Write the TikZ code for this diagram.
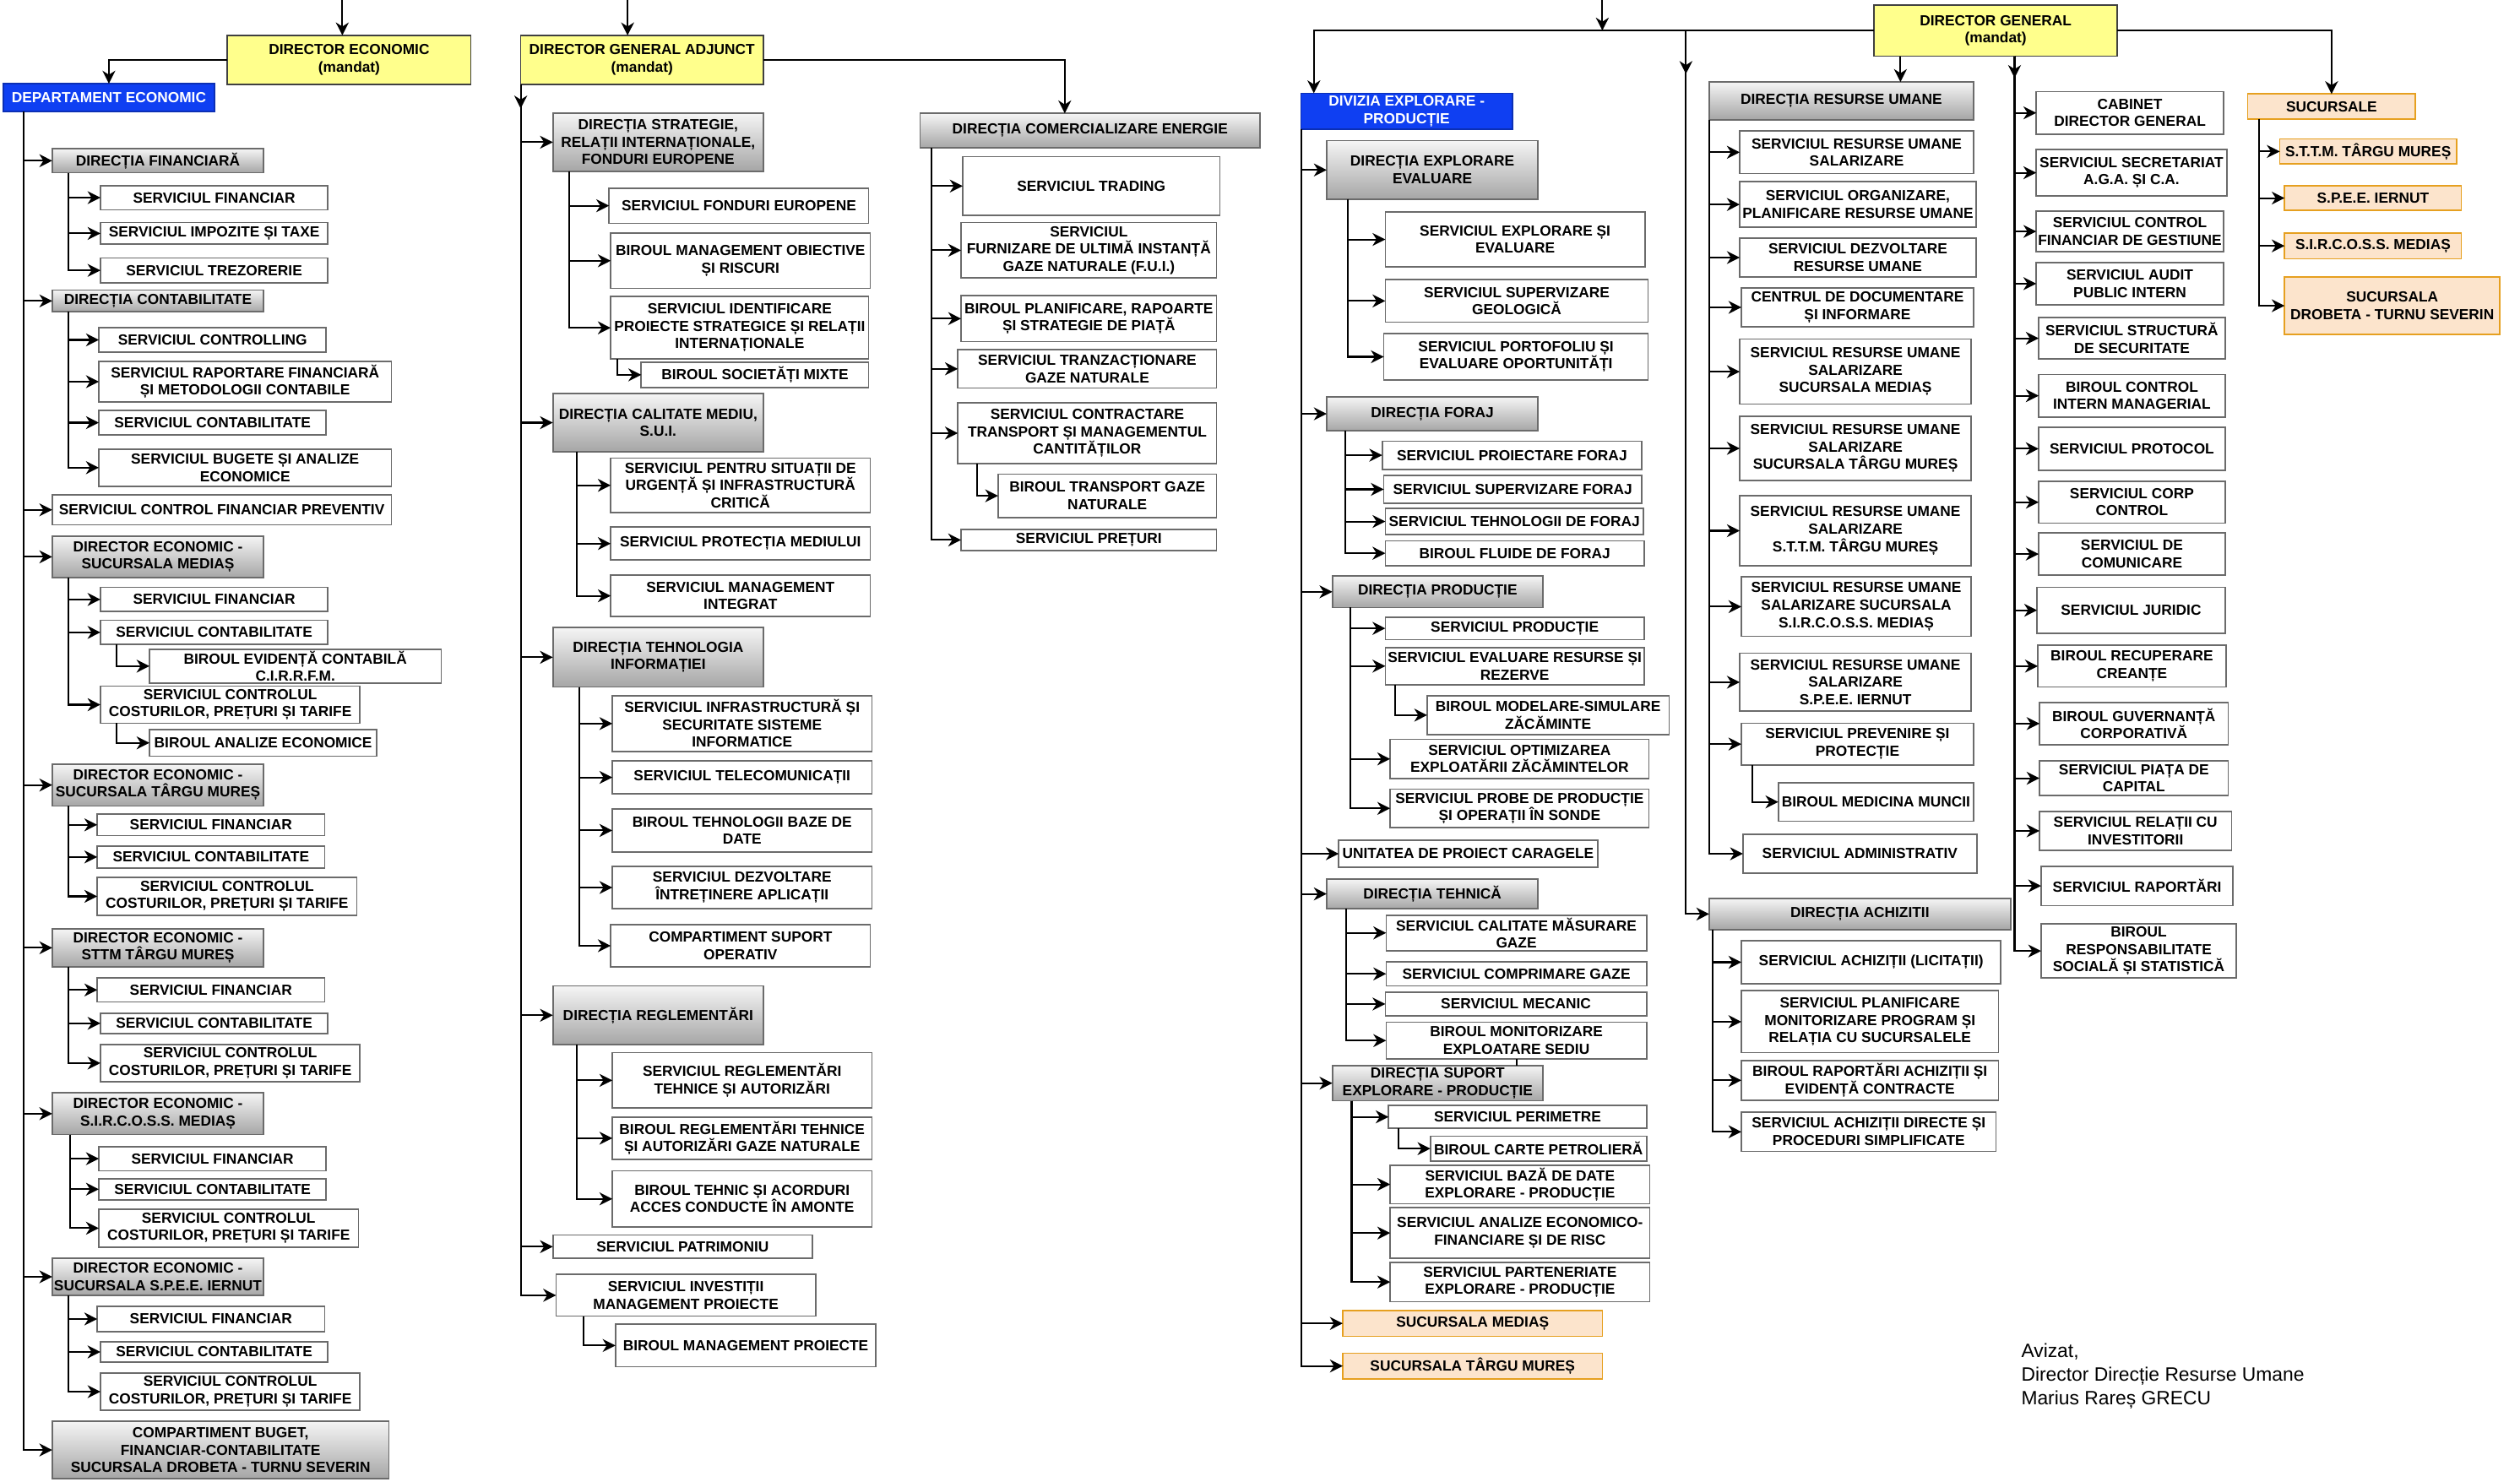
\documentclass[tikz,border=0pt]{standalone}
\usepackage{fontspec}
\setmainfont{Liberation Sans}
\usepackage{xcolor}
\usepackage{tikz}
\usetikzlibrary{arrows.meta}

\definecolor{mandatyellow}{HTML}{FFFF8C}
\definecolor{deptblue}{HTML}{0F3FF2}
\definecolor{sucfill}{HTML}{FCE4CC}
\definecolor{sucline}{HTML}{E6A020}
\definecolor{boxline}{HTML}{6B6B6B}

\newcommand{\orgfont}{\bfseries\fontsize{9.1}{10.8}\selectfont}
\newcommand{\orgnode}[7]{\node[#2, minimum width={#5-#3}, minimum height={#6-#4}] (#1) at ({(#3+#5)/2},{(#4+#6)/2}) {#7};}

\tikzset{
	orgbox/.style={draw=boxline, line width=0.9pt, fill=white, align=center, font=\orgfont, inner sep=0pt, outer sep=0pt},
	dirbox/.style={orgbox, top color=black!4, bottom color=black!35},
	mandat/.style={orgbox, fill=mandatyellow, draw=black!75},
	dept/.style={orgbox, fill=deptblue, draw=deptblue!75!black, text=white},
	branch/.style={orgbox, fill=sucfill, draw=sucline},
	link/.style={line width=1.1pt, -{Stealth[length=8pt,width=8pt,inset=2.5pt]}},
	wire/.style={line width=1.1pt}
}

\begin{document}
\begin{tikzpicture}[x=1pt, y=-1pt]
	\useasboundingbox (0,0) rectangle (1568,922);

	\orgnode{de}{mandat}{141.5}{22}{293}{52.5}{DIRECTOR ECONOMIC\\(mandat)}
	\orgnode{dep}{dept}{2}{52}{133.5}{69.5}{DEPARTAMENT ECONOMIC}
	\orgnode{dfin}{dirbox}{32.5}{92.5}{164}{107.5}{DIRECȚIA FINANCIARĂ}
	\orgnode{fin1}{orgbox}{62.5}{115.5}{204}{130.5}{SERVICIUL FINANCIAR}
	\orgnode{fin2}{orgbox}{62.5}{138.5}{204}{152}{SERVICIUL IMPOZITE ȘI TAXE}
	\orgnode{fin3}{orgbox}{62.5}{160.5}{204}{176}{SERVICIUL TREZORERIE}
	\orgnode{dcont}{dirbox}{32.5}{180.5}{164}{194}{DIRECȚIA CONTABILITATE}
	\orgnode{cont1}{orgbox}{61.5}{204}{203}{219}{SERVICIUL CONTROLLING}
	\orgnode{cont2}{orgbox}{61.5}{225}{243.5}{250}{SERVICIUL RAPORTARE FINANCIARĂ\\ȘI METODOLOGII CONTABILE}
	\orgnode{cont3}{orgbox}{61.5}{255.5}{203}{270.5}{SERVICIUL CONTABILITATE}
	\orgnode{cont4}{orgbox}{61.5}{279.5}{243.5}{302.5}{SERVICIUL BUGETE ȘI ANALIZE\\ECONOMICE}
	\orgnode{cfp}{orgbox}{32.5}{308}{243.5}{326.5}{SERVICIUL CONTROL FINANCIAR PREVENTIV}
	\orgnode{dms}{dirbox}{32.5}{333.5}{164}{359.5}{DIRECTOR ECONOMIC -\\SUCURSALA MEDIAȘ}
	\orgnode{ms1}{orgbox}{62.5}{365.5}{204}{380.5}{SERVICIUL FINANCIAR}
	\orgnode{ms2}{orgbox}{62.5}{386}{204}{401}{SERVICIUL CONTABILITATE}
	\orgnode{ms3}{orgbox}{93}{404}{274.5}{425}{BIROUL EVIDENȚĂ CONTABILĂ\\C.I.R.R.F.M.}
	\orgnode{ms4}{orgbox}{62.5}{427}{224}{450}{SERVICIUL CONTROLUL\\COSTURILOR, PREȚURI ȘI TARIFE}
	\orgnode{ms5}{orgbox}{93}{454}{234.5}{470.5}{BIROUL ANALIZE ECONOMICE}
	\orgnode{dtm}{dirbox}{32.5}{475.5}{164}{501.5}{DIRECTOR ECONOMIC -\\SUCURSALA TÂRGU MUREȘ}
	\orgnode{tm1}{orgbox}{60.5}{506.5}{202}{520}{SERVICIUL FINANCIAR}
	\orgnode{tm2}{orgbox}{60.5}{526.5}{202}{540}{SERVICIUL CONTABILITATE}
	\orgnode{tm3}{orgbox}{60.5}{546}{222}{569.5}{SERVICIUL CONTROLUL\\COSTURILOR, PREȚURI ȘI TARIFE}
	\orgnode{dst}{dirbox}{32.5}{578}{164}{601.5}{DIRECTOR ECONOMIC -\\STTM TÂRGU MUREȘ}
	\orgnode{st1}{orgbox}{60.5}{608.5}{202}{623.5}{SERVICIUL FINANCIAR}
	\orgnode{st2}{orgbox}{62.5}{630.5}{204}{643}{SERVICIUL CONTABILITATE}
	\orgnode{st3}{orgbox}{62.5}{650}{224}{673}{SERVICIUL CONTROLUL\\COSTURILOR, PREȚURI ȘI TARIFE}
	\orgnode{dsir}{dirbox}{32.5}{680}{164}{706}{DIRECTOR ECONOMIC -\\S.I.R.C.O.S.S. MEDIAȘ}
	\orgnode{sir1}{orgbox}{61.5}{713.5}{203}{728.5}{SERVICIUL FINANCIAR}
	\orgnode{sir2}{orgbox}{61.5}{733.5}{203}{746.5}{SERVICIUL CONTABILITATE}
	\orgnode{sir3}{orgbox}{61.5}{752.5}{223}{776}{SERVICIUL CONTROLUL\\COSTURILOR, PREȚURI ȘI TARIFE}
	\orgnode{dier}{dirbox}{32.5}{783}{164}{806}{DIRECTOR ECONOMIC -\\SUCURSALA S.P.E.E. IERNUT}
	\orgnode{ier1}{orgbox}{60.5}{813}{202}{828.5}{SERVICIUL FINANCIAR}
	\orgnode{ier2}{orgbox}{62.5}{835}{204}{847.5}{SERVICIUL CONTABILITATE}
	\orgnode{ier3}{orgbox}{62.5}{854.5}{224}{877.5}{SERVICIUL CONTROLUL\\COSTURILOR, PREȚURI ȘI TARIFE}
	\orgnode{cbf}{dirbox}{32.5}{884.5}{242}{920}{COMPARTIMENT BUGET,\\FINANCIAR-CONTABILITATE\\SUCURSALA DROBETA - TURNU SEVERIN}

	\orgnode{dga}{mandat}{324}{22}{475}{52.5}{DIRECTOR GENERAL ADJUNCT\\(mandat)}
	\orgnode{dstrat}{dirbox}{344}{70.5}{475}{106.5}{DIRECȚIA STRATEGIE,\\RELAȚII INTERNAȚIONALE,\\FONDURI EUROPENE}
	\orgnode{str1}{orgbox}{379}{117}{540.5}{139}{SERVICIUL FONDURI EUROPENE}
	\orgnode{str2}{orgbox}{380}{145}{541.5}{179.5}{BIROUL MANAGEMENT OBIECTIVE\\ȘI RISCURI}
	\orgnode{str3}{orgbox}{380}{184.5}{540.5}{223.5}{SERVICIUL IDENTIFICARE\\PROIECTE STRATEGICE ȘI RELAȚII\\INTERNAȚIONALE}
	\orgnode{str4}{orgbox}{399}{225.5}{540.5}{241}{BIROUL SOCIETĂȚI MIXTE}
	\orgnode{dcal}{dirbox}{344}{245}{475}{281}{DIRECȚIA CALITATE MEDIU,\\S.U.I.}
	\orgnode{cal1}{orgbox}{380}{285}{541.5}{319}{SERVICIUL PENTRU SITUAȚII DE\\URGENȚĂ ȘI INFRASTRUCTURĂ\\CRITICĂ}
	\orgnode{cal2}{orgbox}{380}{328}{541.5}{348.5}{SERVICIUL PROTECȚIA MEDIULUI}
	\orgnode{cal3}{orgbox}{380}{358}{541.5}{383.5}{SERVICIUL MANAGEMENT\\INTEGRAT}
	\orgnode{dti}{dirbox}{344}{390.5}{475}{427.5}{DIRECȚIA TEHNOLOGIA\\INFORMAȚIEI}
	\orgnode{ti1}{orgbox}{381}{433}{542.5}{467.5}{SERVICIUL INFRASTRUCTURĂ ȘI\\SECURITATE SISTEME\\INFORMATICE}
	\orgnode{ti2}{orgbox}{381}{473.5}{542.5}{494}{SERVICIUL TELECOMUNICAȚII}
	\orgnode{ti3}{orgbox}{381}{503.5}{542.5}{530}{BIROUL TEHNOLOGII BAZE DE\\DATE}
	\orgnode{ti4}{orgbox}{381}{539}{542.5}{565.5}{SERVICIUL DEZVOLTARE\\ÎNTREȚINERE APLICAȚII}
	\orgnode{ti5}{orgbox}{380}{575.5}{541.5}{601.5}{COMPARTIMENT SUPORT\\OPERATIV}
	\orgnode{dreg}{dirbox}{344}{613.5}{475}{650}{DIRECȚIA REGLEMENTĂRI}
	\orgnode{reg1}{orgbox}{381}{655}{542.5}{689.5}{SERVICIUL REGLEMENTĂRI\\TEHNICE ȘI AUTORIZĂRI}
	\orgnode{reg2}{orgbox}{381}{695}{542.5}{721.5}{BIROUL REGLEMENTĂRI TEHNICE\\ȘI AUTORIZĂRI GAZE NATURALE}
	\orgnode{reg3}{orgbox}{381}{728.5}{542.5}{763.5}{BIROUL TEHNIC ȘI ACORDURI\\ACCES CONDUCTE ÎN AMONTE}
	\orgnode{pat}{orgbox}{344}{768.5}{505.5}{783}{SERVICIUL PATRIMONIU}
	\orgnode{inv}{orgbox}{346}{793}{507.5}{819}{SERVICIUL INVESTIȚII\\MANAGEMENT PROIECTE}
	\orgnode{inv1}{orgbox}{383}{824}{545}{850.5}{BIROUL MANAGEMENT PROIECTE}

	\orgnode{dcom}{dirbox}{572.5}{70.5}{784}{92}{DIRECȚIA COMERCIALIZARE ENERGIE}
	\orgnode{com1}{orgbox}{599}{97.5}{759}{134}{SERVICIUL TRADING}
	\orgnode{com2}{orgbox}{598}{138.5}{757}{173}{SERVICIUL\\FURNIZARE DE ULTIMĂ INSTANȚĂ\\GAZE NATURALE (F.U.I.)}
	\orgnode{com3}{orgbox}{598}{184}{757}{212.5}{BIROUL PLANIFICARE, RAPOARTE\\ȘI STRATEGIE DE PIAȚĂ}
	\orgnode{com4}{orgbox}{596}{217.5}{757}{241.5}{SERVICIUL TRANZACȚIONARE\\GAZE NATURALE}
	\orgnode{com5}{orgbox}{596}{250.5}{757}{288.5}{SERVICIUL CONTRACTARE\\TRANSPORT ȘI MANAGEMENTUL\\CANTITĂȚILOR}
	\orgnode{com6}{orgbox}{621}{295}{757}{322}{BIROUL TRANSPORT GAZE\\NATURALE}
	\orgnode{com7}{orgbox}{598}{329.5}{757}{342.5}{SERVICIUL PREȚURI}

	\orgnode{dg}{mandat}{1166}{3}{1317.5}{35}{DIRECTOR GENERAL\\(mandat)}
	\orgnode{div}{dept}{809.5}{58}{941}{80.5}{DIVIZIA EXPLORARE -\\PRODUCȚIE}
	\orgnode{dexp}{dirbox}{825.5}{87.5}{957}{124}{DIRECȚIA EXPLORARE\\EVALUARE}
	\orgnode{exp1}{orgbox}{862}{132}{1023.5}{166}{SERVICIUL EXPLORARE ȘI\\EVALUARE}
	\orgnode{exp2}{orgbox}{862}{174}{1025.5}{200.5}{SERVICIUL SUPERVIZARE\\GEOLOGICĂ}
	\orgnode{exp3}{orgbox}{861}{207.5}{1025.5}{236.5}{SERVICIUL PORTOFOLIU ȘI\\EVALUARE OPORTUNITĂȚI}
	\orgnode{dfor}{dirbox}{825.5}{247}{957}{268}{DIRECȚIA FORAJ}
	\orgnode{for1}{orgbox}{860}{274.5}{1021.5}{292}{SERVICIUL PROIECTARE FORAJ}
	\orgnode{for2}{orgbox}{861}{296}{1021.5}{313}{SERVICIUL SUPERVIZARE FORAJ}
	\orgnode{for3}{orgbox}{862}{316.5}{1022.5}{332.5}{SERVICIUL TEHNOLOGII DE FORAJ}
	\orgnode{for4}{orgbox}{862}{336.5}{1023}{352}{BIROUL FLUIDE DE FORAJ}
	\orgnode{dpro}{dirbox}{829}{358.5}{960}{378}{DIRECȚIA PRODUCȚIE}
	\orgnode{pro1}{orgbox}{862}{384}{1023}{398}{SERVICIUL PRODUCȚIE}
	\orgnode{pro2}{orgbox}{862}{403}{1023}{426}{SERVICIUL EVALUARE RESURSE ȘI\\REZERVE}
	\orgnode{pro3}{orgbox}{888}{433}{1038.5}{457}{BIROUL MODELARE-SIMULARE\\ZĂCĂMINTE}
	\orgnode{pro4}{orgbox}{865}{460}{1026}{484.5}{SERVICIUL OPTIMIZAREA\\EXPLOATĂRII ZĂCĂMINTELOR}
	\orgnode{pro5}{orgbox}{865}{491}{1026}{515}{SERVICIUL PROBE DE PRODUCȚIE\\ȘI OPERAȚII ÎN SONDE}
	\orgnode{car}{orgbox}{833}{523}{994}{539.5}{UNITATEA DE PROIECT CARAGELE}
	\orgnode{dteh}{dirbox}{825.5}{547}{957}{565.5}{DIRECȚIA TEHNICĂ}
	\orgnode{teh1}{orgbox}{862.5}{569.5}{1024.5}{591.5}{SERVICIUL CALITATE MĂSURARE\\GAZE}
	\orgnode{teh2}{orgbox}{862.5}{598.5}{1024.5}{613.5}{SERVICIUL COMPRIMARE GAZE}
	\orgnode{teh3}{orgbox}{862}{617.5}{1024.5}{632}{SERVICIUL MECANIC}
	\orgnode{teh4}{orgbox}{862.5}{636}{1024.5}{659}{BIROUL MONITORIZARE\\EXPLOATARE SEDIU}
	\orgnode{dsup}{dirbox}{829}{663}{960}{685}{DIRECȚIA SUPORT\\EXPLORARE - PRODUCȚIE}
	\orgnode{sup1}{orgbox}{864}{688}{1024.5}{702}{SERVICIUL PERIMETRE}
	\orgnode{sup2}{orgbox}{890}{707}{1024.5}{722.5}{BIROUL CARTE PETROLIERĂ}
	\orgnode{sup3}{orgbox}{865}{725}{1026.5}{749}{SERVICIUL BAZĂ DE DATE\\EXPLORARE - PRODUCȚIE}
	\orgnode{sup4}{orgbox}{865}{751.5}{1026.5}{783}{SERVICIUL ANALIZE ECONOMICO-\\FINANCIARE ȘI DE RISC}
	\orgnode{sup5}{orgbox}{865}{785.5}{1026.5}{810}{SERVICIUL PARTENERIATE\\EXPLORARE - PRODUCȚIE}
	\orgnode{sucms}{branch}{835.5}{815.5}{997}{831.5}{SUCURSALA MEDIAȘ}
	\orgnode{suctm}{branch}{835.5}{842}{997}{858}{SUCURSALA TÂRGU MUREȘ}

	\orgnode{ru}{dirbox}{1063.5}{51}{1228}{74.5}{DIRECȚIA RESURSE UMANE}
	\orgnode{ru1}{orgbox}{1082.5}{81.5}{1228}{108}{SERVICIUL RESURSE UMANE\\SALARIZARE}
	\orgnode{ru2}{orgbox}{1082.5}{113}{1229.5}{141.5}{SERVICIUL ORGANIZARE,\\PLANIFICARE RESURSE UMANE}
	\orgnode{ru3}{orgbox}{1082.5}{148}{1229.5}{172.5}{SERVICIUL DEZVOLTARE\\RESURSE UMANE}
	\orgnode{ru4}{orgbox}{1083.5}{179}{1228}{203.5}{CENTRUL DE DOCUMENTARE\\ȘI INFORMARE}
	\orgnode{ru5}{orgbox}{1082.5}{211}{1226.5}{251.5}{SERVICIUL RESURSE UMANE\\SALARIZARE\\SUCURSALA MEDIAȘ}
	\orgnode{ru6}{orgbox}{1082.5}{259}{1226.5}{299}{SERVICIUL RESURSE UMANE\\SALARIZARE\\SUCURSALA TÂRGU MUREȘ}
	\orgnode{ru7}{orgbox}{1082.5}{308.5}{1226.5}{352}{SERVICIUL RESURSE UMANE\\SALARIZARE\\S.T.T.M. TÂRGU MUREȘ}
	\orgnode{ru8}{orgbox}{1083.5}{359}{1226.5}{396}{SERVICIUL RESURSE UMANE\\SALARIZARE SUCURSALA\\S.I.R.C.O.S.S. MEDIAȘ}
	\orgnode{ru9}{orgbox}{1082.5}{406.5}{1226.5}{442.5}{SERVICIUL RESURSE UMANE\\SALARIZARE\\S.P.E.E. IERNUT}
	\orgnode{ru10}{orgbox}{1083.5}{450}{1228}{476}{SERVICIUL PREVENIRE ȘI\\PROTECȚIE}
	\orgnode{ru11}{orgbox}{1106.5}{487}{1228}{511}{BIROUL MEDICINA MUNCII}
	\orgnode{ru12}{orgbox}{1084.5}{519}{1230}{543.5}{SERVICIUL ADMINISTRATIV}
	\orgnode{ach}{dirbox}{1063.5}{559}{1251}{578.5}{DIRECȚIA ACHIZITII}
	\orgnode{ach1}{orgbox}{1083.5}{585.5}{1245}{612}{SERVICIUL ACHIZIȚII (LICITAȚII)}
	\orgnode{ach2}{orgbox}{1083.5}{616.5}{1243.5}{655}{SERVICIUL PLANIFICARE\\MONITORIZARE PROGRAM ȘI\\RELAȚIA CU SUCURSALELE}
	\orgnode{ach3}{orgbox}{1083.5}{660}{1243.5}{684.5}{BIROUL RAPORTĂRI ACHIZIȚII ȘI\\EVIDENȚĂ CONTRACTE}
	\orgnode{ach4}{orgbox}{1083.5}{692}{1242}{716.5}{SERVICIUL ACHIZIȚII DIRECTE ȘI\\PROCEDURI SIMPLIFICATE}

	\orgnode{cab1}{orgbox}{1267}{57}{1383.5}{83.5}{CABINET\\DIRECTOR GENERAL}
	\orgnode{cab2}{orgbox}{1267}{93}{1385.5}{122}{SERVICIUL SECRETARIAT\\A.G.A. ȘI C.A.}
	\orgnode{cab3}{orgbox}{1267}{131.5}{1383.5}{156.5}{SERVICIUL CONTROL\\FINANCIAR DE GESTIUNE}
	\orgnode{cab4}{orgbox}{1267}{163.5}{1383.5}{189.5}{SERVICIUL AUDIT\\PUBLIC INTERN}
	\orgnode{cab5}{orgbox}{1268.5}{197.5}{1384.5}{223.5}{SERVICIUL STRUCTURĂ\\DE SECURITATE}
	\orgnode{cab6}{orgbox}{1268.5}{233}{1384.5}{259.5}{BIROUL CONTROL\\INTERN MANAGERIAL}
	\orgnode{cab7}{orgbox}{1268.5}{266}{1384.5}{292.5}{SERVICIUL PROTOCOL}
	\orgnode{cab8}{orgbox}{1268.5}{299.5}{1384.5}{325.5}{SERVICIUL CORP\\CONTROL}
	\orgnode{cab9}{orgbox}{1268.5}{331.5}{1384.5}{358}{SERVICIUL DE\\COMUNICARE}
	\orgnode{cab10}{orgbox}{1267.5}{365.5}{1384.5}{394}{SERVICIUL JURIDIC}
	\orgnode{cab11}{orgbox}{1268}{401.5}{1385}{427.5}{BIROUL RECUPERARE\\CREANȚE}
	\orgnode{cab12}{orgbox}{1269}{437}{1386.5}{463.5}{BIROUL GUVERNANȚĂ\\CORPORATIVĂ}
	\orgnode{cab13}{orgbox}{1269}{473.5}{1386.5}{495}{SERVICIUL PIAȚA DE\\CAPITAL}
	\orgnode{cab14}{orgbox}{1269}{505}{1388.5}{529}{SERVICIUL RELAȚII CU\\INVESTITORII}
	\orgnode{cab15}{orgbox}{1270}{539}{1389.5}{563.5}{SERVICIUL RAPORTĂRI}
	\orgnode{cab16}{orgbox}{1270}{575}{1391.5}{608.5}{BIROUL\\RESPONSABILITATE\\SOCIALĂ ȘI STATISTICĂ}

	\orgnode{suc}{branch}{1398.5}{58.5}{1503}{74}{SUCURSALE}
	\orgnode{suc1}{branch}{1418.5}{86.5}{1528.5}{102}{S.T.T.M. TÂRGU MUREȘ}
	\orgnode{suc2}{branch}{1421.5}{115.5}{1531.5}{131}{S.P.E.E. IERNUT}
	\orgnode{suc3}{branch}{1421.5}{145}{1531.5}{161}{S.I.R.C.O.S.S. MEDIAȘ}
	\orgnode{suc4}{branch}{1421.5}{172.5}{1555.5}{208}{SUCURSALA\\DROBETA - TURNU SEVERIN}

	\node[anchor=north west, align=left, inner sep=0pt, font=\fontsize{12}{14.5}\selectfont] (aviz) at (1257.5,836) {Avizat,\\Director Direcție Resurse Umane\\Marius Rareș GRECU};

	\coordinate (inde) at (213,0);
	\coordinate (inga) at (390.5,0);
	\coordinate (indg) at (997,0);
	\coordinate (jach) at (1049,19);
	\coordinate (tdep) at ([xshift=12.5pt]dep.south west);
	\coordinate (tfin) at ([xshift=10pt]dfin.south west);
	\coordinate (tcont) at ([xshift=10pt]dcont.south west);
	\coordinate (tms) at ([xshift=10pt]dms.south west);
	\coordinate (tms2) at ([xshift=10pt]ms2.south west);
	\coordinate (tms4) at ([xshift=10pt]ms4.south west);
	\coordinate (ttm) at ([xshift=10pt]dtm.south west);
	\coordinate (tst) at ([xshift=10pt]dst.south west);
	\coordinate (tsir) at ([xshift=11pt]dsir.south west);
	\coordinate (tier) at ([xshift=10pt]dier.south west);
	\coordinate (tstrat) at ([xshift=10pt]dstrat.south west);
	\coordinate (tstr3) at ([xshift=4pt]str3.south west);
	\coordinate (tcal) at ([xshift=15pt]dcal.south west);
	\coordinate (tti) at ([xshift=16.5pt]dti.south west);
	\coordinate (treg) at ([xshift=15pt]dreg.south west);
	\coordinate (tinv) at ([xshift=17pt]inv.south west);
	\coordinate (tcom) at ([xshift=7pt]dcom.south west);
	\coordinate (tcom5) at ([xshift=12pt]com5.south west);
	\coordinate (texp) at ([xshift=13pt]dexp.south west);
	\coordinate (tfor) at ([xshift=11.5pt]dfor.south west);
	\coordinate (tpro) at ([xshift=11pt]dpro.south west);
	\coordinate (tpro2) at ([xshift=6pt]pro2.south west);
	\coordinate (tteh) at ([xshift=12pt]dteh.south west);
	\coordinate (tsup) at ([xshift=12pt]dsup.south west);
	\coordinate (tsup1) at ([xshift=6pt]sup1.south west);
	\coordinate (tru10) at ([xshift=7pt]ru10.south west);
	\coordinate (tach) at ([xshift=2pt]ach.south west);
	\coordinate (tsuc) at ([xshift=7pt]suc.south west);
	\coordinate (dgru) at ([xshift=16.5pt]dg.south west);
	\coordinate (dgcab) at ([xshift=87.5pt]dg.south west);

	\draw[link] (inde) -- (inde |- de.north);
	\draw[link] (de.west) -| (dep.north);
	\draw[link] (tdep) |- (dfin.west);
	\draw[link] (tdep) |- (dcont.west);
	\draw[link] (tdep) |- (cfp.west);
	\draw[link] (tdep) |- (dms.west);
	\draw[link] (tdep) |- (dtm.west);
	\draw[link] (tdep) |- (dst.west);
	\draw[link] (tdep) |- (dsir.west);
	\draw[link] (tdep) |- (dier.west);
	\draw[link] (tdep) |- (cbf.west);
	\draw[link] (tfin) |- (fin1.west);
	\draw[link] (tfin) |- (fin2.west);
	\draw[link] (tfin) |- (fin3.west);
	\draw[link] (tcont) |- (cont1.west);
	\draw[link] (tcont) |- (cont2.west);
	\draw[link] (tcont) |- (cont3.west);
	\draw[link] (tcont) |- (cont4.west);
	\draw[link] (tms) |- (ms1.west);
	\draw[link] (tms) |- (ms2.west);
	\draw[link] (tms) |- (ms4.west);
	\draw[link] (tms2) |- (ms3.west);
	\draw[link] (tms4) |- (ms5.west);
	\draw[link] (ttm) |- (tm1.west);
	\draw[link] (ttm) |- (tm2.west);
	\draw[link] (ttm) |- (tm3.west);
	\draw[link] (tst) |- (st1.west);
	\draw[link] (tst) |- (st2.west);
	\draw[link] (tst) |- (st3.west);
	\draw[link] (tsir) |- (sir1.west);
	\draw[link] (tsir) |- (sir2.west);
	\draw[link] (tsir) |- (sir3.west);
	\draw[link] (tier) |- (ier1.west);
	\draw[link] (tier) |- (ier2.west);
	\draw[link] (tier) |- (ier3.west);

	\draw[link] (inga) -- (inga |- dga.north);
	\draw[link] (dga.east) -| ([xshift=90pt]dcom.north west);
	\draw[link] (dga.south west) -- ++(0,15);
	\draw[link] (dga.south west) |- (dstrat.west);
	\draw[link] (dga.south west) |- (dcal.west);
	\draw[link] (dga.south west) |- (dti.west);
	\draw[link] (dga.south west) |- (dreg.west);
	\draw[link] (dga.south west) |- (pat.west);
	\draw[link] (dga.south west) |- (inv.west);
	\draw[link] (tstrat) |- (str1.west);
	\draw[link] (tstrat) |- (str2.west);
	\draw[link] (tstrat) |- (str3.west);
	\draw[link] (tstr3) |- (str4.west);
	\draw[link] (tcal) |- (cal1.west);
	\draw[link] (tcal) |- (cal2.west);
	\draw[link] (tcal) |- (cal3.west);
	\draw[link] (tti) |- (ti1.west);
	\draw[link] (tti) |- (ti2.west);
	\draw[link] (tti) |- (ti3.west);
	\draw[link] (tti) |- (ti4.west);
	\draw[link] (tti) |- (ti5.west);
	\draw[link] (treg) |- (reg1.west);
	\draw[link] (treg) |- (reg2.west);
	\draw[link] (treg) |- (reg3.west);
	\draw[link] (tinv) |- (inv1.west);
	\draw[link] (tcom) |- (com1.west);
	\draw[link] (tcom) |- (com2.west);
	\draw[link] (tcom) |- (com3.west);
	\draw[link] (tcom) |- (com4.west);
	\draw[link] (tcom) |- (com5.west);
	\draw[link] (tcom) |- (com7.west);
	\draw[link] (tcom5) |- (com6.west);

	\draw[link] (indg) -- (indg |- dg.west);
	\draw[link] (dg.west) -| ([xshift=8pt]div.north west);
	\draw[link] (jach) -- ++(0,27);
	\draw[link] (jach) |- (ach.west);
	\draw[link] (div.south west) |- (dexp.west);
	\draw[link] (div.south west) |- (dfor.west);
	\draw[link] (div.south west) |- (dpro.west);
	\draw[link] (div.south west) |- (car.west);
	\draw[link] (div.south west) |- (dteh.west);
	\draw[link] (div.south west) |- (dsup.west);
	\draw[link] (div.south west) |- (sucms.west);
	\draw[link] (div.south west) |- (suctm.west);
	\draw[link] (texp) |- (exp1.west);
	\draw[link] (texp) |- (exp2.west);
	\draw[link] (texp) |- (exp3.west);
	\draw[link] (tfor) |- (for1.west);
	\draw[link] (tfor) |- (for2.west);
	\draw[link] (tfor) |- (for3.west);
	\draw[link] (tfor) |- (for4.west);
	\draw[link] (tpro) |- (pro1.west);
	\draw[link] (tpro) |- (pro2.west);
	\draw[link] (tpro) |- (pro4.west);
	\draw[link] (tpro) |- (pro5.west);
	\draw[link] (tpro2) |- (pro3.west);
	\draw[link] (tteh) |- (teh1.west);
	\draw[link] (tteh) |- (teh2.west);
	\draw[link] (tteh) |- (teh3.west);
	\draw[link] (tteh) |- (teh4.west);
	\draw[wire] (teh4.south) -- (teh4.south |- dsup.north);
	\draw[link] (tsup) |- (sup1.west);
	\draw[link] (tsup) |- (sup3.west);
	\draw[link] (tsup) |- (sup4.west);
	\draw[link] (tsup) |- (sup5.west);
	\draw[link] (tsup1) |- (sup2.west);

	\draw[link] (dgru) -- (dgru |- ru.north);
	\draw[link] (ru.south west) |- (ru1.west);
	\draw[link] (ru.south west) |- (ru2.west);
	\draw[link] (ru.south west) |- (ru3.west);
	\draw[link] (ru.south west) |- (ru4.west);
	\draw[link] (ru.south west) |- (ru5.west);
	\draw[link] (ru.south west) |- (ru6.west);
	\draw[link] (ru.south west) |- (ru7.west);
	\draw[link] (ru.south west) |- (ru8.west);
	\draw[link] (ru.south west) |- (ru9.west);
	\draw[link] (ru.south west) |- (ru10.west);
	\draw[link] (ru.south west) |- (ru12.west);
	\draw[link] (tru10) |- (ru11.west);
	\draw[link] (tach) |- (ach1.west);
	\draw[link] (tach) |- (ach2.west);
	\draw[link] (tach) |- (ach3.west);
	\draw[link] (tach) |- (ach4.west);

	\draw[link] (dgcab) -- ++(0,13.5);
	\draw[link] (dgcab) |- (cab1.west);
	\draw[link] (dgcab) |- (cab2.west);
	\draw[link] (dgcab) |- (cab3.west);
	\draw[link] (dgcab) |- (cab4.west);
	\draw[link] (dgcab) |- (cab5.west);
	\draw[link] (dgcab) |- (cab6.west);
	\draw[link] (dgcab) |- (cab7.west);
	\draw[link] (dgcab) |- (cab8.west);
	\draw[link] (dgcab) |- (cab9.west);
	\draw[link] (dgcab) |- (cab10.west);
	\draw[link] (dgcab) |- (cab11.west);
	\draw[link] (dgcab) |- (cab12.west);
	\draw[link] (dgcab) |- (cab13.west);
	\draw[link] (dgcab) |- (cab14.west);
	\draw[link] (dgcab) |- (cab15.west);
	\draw[link] (dgcab) |- (cab16.west);

	\draw[link] (dg.east) -| (suc.north);
	\draw[link] (tsuc) |- (suc1.west);
	\draw[link] (tsuc) |- (suc2.west);
	\draw[link] (tsuc) |- (suc3.west);
	\draw[link] (tsuc) |- (suc4.west);
\end{tikzpicture}
\end{document}
